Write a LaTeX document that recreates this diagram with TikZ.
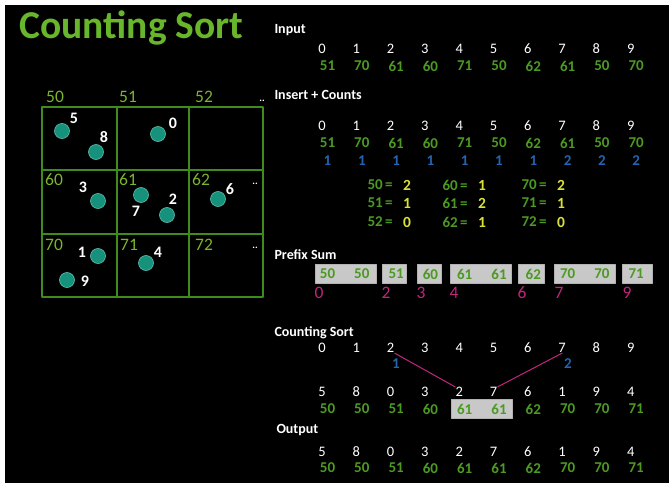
\documentclass[tikz,border=0pt]{standalone}
\usepackage{fontspec}
\setmainfont{Carlito}
\usetikzlibrary{calc}
\definecolor{SortPaper}{HTML}{000000}
\definecolor{SortTitle}{HTML}{68B62B}
\definecolor{SortGreen}{HTML}{4C9A22}
\definecolor{SortGrid}{HTML}{3E8C1E}
\definecolor{SortBucket}{HTML}{7AB52E}
\definecolor{SortTeal}{HTML}{15917C}
\definecolor{SortRim}{HTML}{62BFAE}
\definecolor{SortBlue}{HTML}{2464B0}
\definecolor{SortYellow}{HTML}{D8E03A}
\definecolor{SortPink}{HTML}{C2257E}
\definecolor{SortBox}{HTML}{C8C8C8}
\tikzset{
    csort/diagram/.style={
        x=1pt, y=-1pt,
        text=white,
        line cap=round,
        line join=round,
        every node/.style={inner sep=0.5pt, outer sep=0pt}
    },
    csort/title/.style={anchor=base west, text=SortTitle,
        font=\fontsize{39.5}{44}\selectfont\bfseries},
    csort/heading/.style={anchor=west, font=\fontsize{14}{16}\selectfont\bfseries},
    csort/grid/.style={draw=SortGrid, line width=1.8pt},
    csort/bucket/.style={text=SortBucket, font=\fontsize{17.5}{19}\selectfont},
    csort/dots/.style={font=\fontsize{10}{12}\selectfont\bfseries},
    csort/ball/.style={circle, fill=SortTeal, draw=SortRim, line width=0.6pt,
        minimum size=15pt, inner sep=0pt},
    csort/tag/.style={font=\fontsize{16}{18}\selectfont\bfseries},
    csort/index/.style={font=\fontsize{14.5}{16}\selectfont},
    csort/value/.style={text=SortGreen, font=\fontsize{15}{17}\selectfont\bfseries},
    csort/count/.style={text=SortBlue, font=\fontsize{15}{17}\selectfont\bfseries},
    csort/key/.style={anchor=west, text=SortGreen, font=\fontsize{15}{17}\selectfont\bfseries},
    csort/total/.style={text=SortYellow, font=\fontsize{15.5}{17}\selectfont\bfseries},
    csort/cell/.style={rectangle, fill=SortBox, draw=gray!60, line width=0.6pt},
    csort/pos/.style={text=SortPink, font=\fontsize{17.5}{19}\selectfont},
    csort/link/.style={draw=SortPink, line width=1pt}
}
\begin{document}
\begin{tikzpicture}[csort/diagram]
    \fill[white] (0,0) rectangle (669,487);
    \fill[SortPaper] (5,5) rectangle (669,483);
    \node[csort/title] (title) at (19,38) {Counting Sort};
    % buckets
    \draw[csort/grid] (42,107) rectangle (263,297);
    \draw[csort/grid] (117,107) -- (117,297) (189,107) -- (189,297)
                      (42,170) -- (263,170) (42,234) -- (263,234);
    \foreach \t/\x/\y in {50/55/97, 51/128/97, 52/204/97,
                          60/54/180, 61/128/180, 62/201/180,
                          70/54/245, 71/129/245, 72/204/245}
        \node[csort/bucket] (b\t) at (\x,\y) {\t};
    \node[csort/dots] (dotsA) at (262,101) {..};
    \node[csort/dots] (dotsB) at (255,184) {..};
    \node[csort/dots] (dotsC) at (255,248) {..};
    \foreach \k/\x/\y/\lx/\ly in {5/62/131/74/118, 8/96/152/104/137,
                                  0/158/134/173/123, 3/98/201/83/187,
                                  7/141/195/136/211, 2/167/215/173/199,
                                  6/218/199/230/189, 1/98/256/82/252,
                                  9/67/280/85/281, 4/146/263/158/252} {
        \node[csort/ball] (ball\k) at (\x,\y) {};
        \node[csort/tag] (tag\k) at (\lx,\ly) {\k};
    }
    % input
    \node[csort/heading] (hInput) at (274,30) {Input};
    \foreach \v [count=\i from 0] in {51,70,61,60,71,50,62,61,50,70} {
        \node[csort/index] (in\i) at (322+34.3*\i,49) {\i};
        \node[csort/value] (iv\i) at (327.5+34.3*\i,66) {\v};
    }
    % insert + counts
    \node[csort/heading] (hInsert) at (274,95) {Insert + Counts};
    \foreach \v/\c [count=\i from 0] in {51/1,70/1,61/1,60/1,71/1,
                                         50/1,62/1,61/2,50/2,70/2} {
        \node[csort/index] (ci\i) at (322+34.3*\i,126) {\i};
        \node[csort/value] (cv\i) at (327.5+34.3*\i,143) {\v};
        \node[csort/count] (cc\i) at (327.5+34.3*\i,161) {\c};
    }
    \foreach \t/\n/\x/\y in {50/2/367/185, 51/1/367/203, 52/0/367/222,
                             60/1/442/185, 61/2/442/203, 62/1/442/222,
                             70/2/521/185, 71/1/521/203, 72/0/521/222} {
        \node[csort/key] (k\t) at (\x,\y) {\t\,=};
        \node[csort/total] (n\t) at (\x+40,\y) {\n};
    }
    % prefix sum
    \node[csort/heading] (hPrefix) at (274,255) {Prefix Sum};
    \foreach \c/\w [count=\k] in {345.5/61, 394/24, 429/24, 480.5/61,
                                  531/26, 584.5/61, 637/30}
        \node[csort/cell, minimum width=\w, minimum height=19] (ps\k) at (\c,273.5) {};
    \foreach \v [count=\i from 0] in {50,50,51,60,61,61,62,70,70,71}
        \node[csort/value] (pv\i) at (327.5+34.3*\i,274) {\v};
    \foreach \m/\x in {0/319, 2/386, 3/421, 4/454, 6/522, 7/559, 9/627}
        \node[csort/pos] (pp\m) at (\x,293) {\m};
    % counting sort
    \node[csort/heading] (hSort) at (274,333) {Counting Sort};
    \node[csort/cell, minimum width=61, minimum height=19] (hit) at (481.5,408.5) {};
    \foreach \o/\v [count=\i from 0] in {5/50,8/50,0/51,3/60,2/61,
                                         7/61,6/62,1/70,9/70,4/71} {
        \node[csort/index] (cs\i) at (322+34.3*\i,348) {\i};
        \node[csort/index] (os\i) at (322+34.3*\i,392) {\o};
        \node[csort/value] (ov\i) at (327.5+34.3*\i,409) {\v};
    }
    \node[csort/count] (dupA) at (396,364) {1};
    \node[csort/count] (dupB) at (568,364) {2};
    \draw[csort/link] (cs2.south east) -- (os4.north west);
    \draw[csort/link] (cs7.south) -- (os5.north east);
    % output
    \node[csort/heading] (hOutput) at (276,430) {Output};
    \foreach \o/\v [count=\i from 0] in {5/50,8/50,0/51,3/60,2/61,
                                         7/61,6/62,1/70,9/70,4/71} {
        \node[csort/index] (out\i) at (322+34.3*\i,452) {\o};
        \node[csort/value] (outv\i) at (327.5+34.3*\i,468) {\v};
    }
\end{tikzpicture}
\end{document}
